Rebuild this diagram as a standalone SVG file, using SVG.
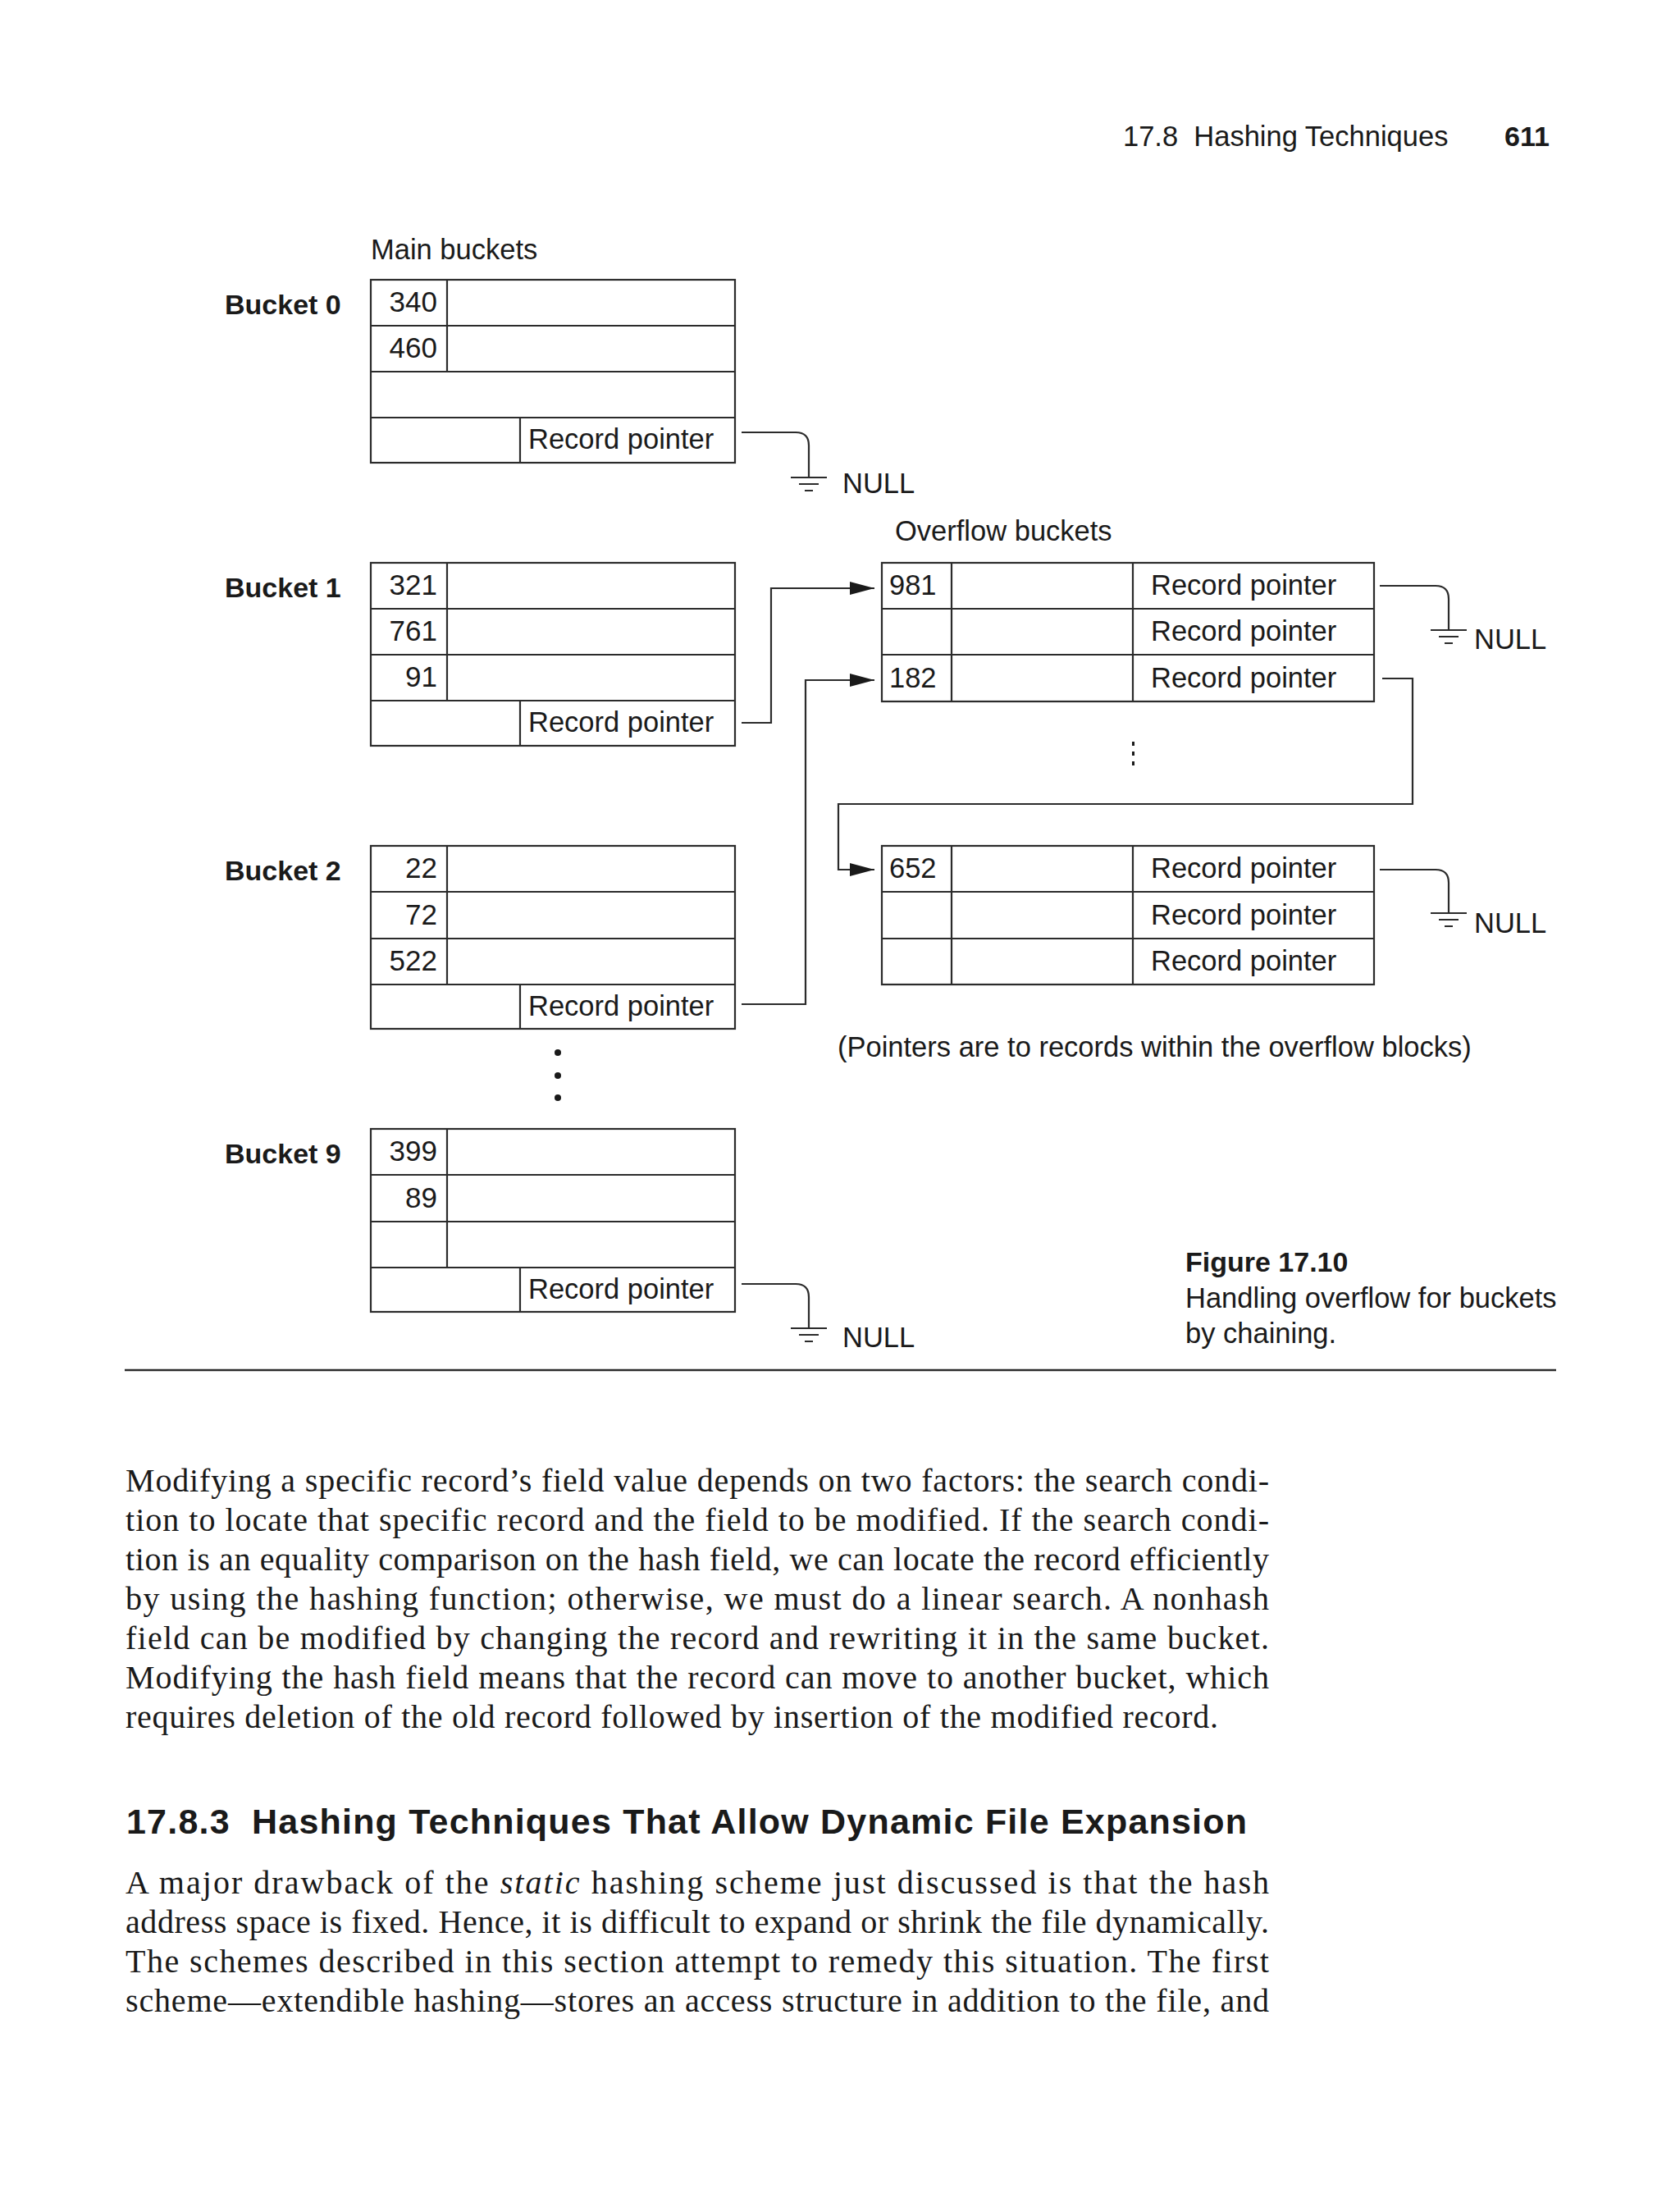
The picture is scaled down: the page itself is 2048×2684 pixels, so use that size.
<svg xmlns="http://www.w3.org/2000/svg" width="2048" height="2684" viewBox="0 0 2048 2684">
<style>
.bg{fill:#ffffff}
.box{fill:none;stroke:#2b2b2b;stroke-width:2.2}
.ln{fill:none;stroke:#2b2b2b;stroke-width:2.2}
.t{font-family:"Liberation Sans",Arial,Helvetica,sans-serif;font-size:34.5px;fill:#1a1a1a}
.tb{font-family:"Liberation Sans",Arial,Helvetica,sans-serif;font-size:34px;font-weight:bold;fill:#1a1a1a}
.num{text-anchor:end;font-size:35px}
.body{font-family:"Liberation Serif","Times New Roman",serif;font-size:40px;fill:#1a1a1a}
.h{font-family:"Liberation Sans",Arial,Helvetica,sans-serif;font-size:43px;font-weight:bold;fill:#1a1a1a}
.gnd{fill:none;stroke:#2b2b2b;stroke-width:2}
.dot{fill:#1a1a1a}
</style>
<defs>
<marker id="arr" markerWidth="30" markerHeight="16" refX="30" refY="8" orient="auto" markerUnits="userSpaceOnUse">
<path d="M0,0 L30,8 L0,16 z" fill="#1a1a1a"/>
</marker>
<g id="ground">
<line x1="-22" y1="0" x2="22" y2="0"/>
<line x1="-12" y1="8" x2="12" y2="8"/>
<line x1="-5" y1="16" x2="5" y2="16"/>
</g>
</defs>
<rect class="bg" x="0" y="0" width="2048" height="2684"/>

<g id="header">
<text class="t" x="1369" y="178" xml:space="preserve">17.8  Hashing Techniques</text>
<text class="tb" x="1834" y="178">611</text>
</g>

<g id="labels">
<text class="t" x="452" y="316">Main buckets</text>
<text class="t" x="1091" y="659">Overflow buckets</text>
<text class="t" x="1021" y="1288">(Pointers are to records within the overflow blocks)</text>
</g>

<g id="bucket0">
<text class="tb" x="274" y="383">Bucket 0</text>
<rect class="box" x="452" y="341" width="444" height="223"/>
<path class="ln" d="M452,397 H896 M452,453 H896 M452,509 H896 M545,341 V453 M634,509 V564"/>
<text class="t num" x="533" y="380">340</text>
<text class="t num" x="533" y="436">460</text>
<text class="t" x="644" y="547">Record pointer</text>
</g>

<g id="bucket1">
<text class="tb" x="274" y="728">Bucket 1</text>
<rect class="box" x="452" y="686" width="444" height="223"/>
<path class="ln" d="M452,742 H896 M452,798 H896 M452,854 H896 M545,686 V854 M634,854 V909"/>
<text class="t num" x="533" y="725">321</text>
<text class="t num" x="533" y="781">761</text>
<text class="t num" x="533" y="837">91</text>
<text class="t" x="644" y="892">Record pointer</text>
</g>

<g id="bucket2">
<text class="tb" x="274" y="1073">Bucket 2</text>
<rect class="box" x="452" y="1031" width="444" height="223"/>
<path class="ln" d="M452,1087 H896 M452,1144 H896 M452,1200 H896 M545,1031 V1200 M634,1200 V1254"/>
<text class="t num" x="533" y="1070">22</text>
<text class="t num" x="533" y="1127">72</text>
<text class="t num" x="533" y="1183">522</text>
<text class="t" x="644" y="1238">Record pointer</text>
</g>

<g id="ellipsis-main">
<circle class="dot" cx="680" cy="1283" r="4"/>
<circle class="dot" cx="680" cy="1311" r="4"/>
<circle class="dot" cx="680" cy="1338" r="4"/>
</g>

<g id="bucket9">
<text class="tb" x="274" y="1418">Bucket 9</text>
<rect class="box" x="452" y="1376" width="444" height="223"/>
<path class="ln" d="M452,1432 H896 M452,1489 H896 M452,1545 H896 M545,1376 V1545 M634,1545 V1599"/>
<text class="t num" x="533" y="1415">399</text>
<text class="t num" x="533" y="1472">89</text>
<text class="t" x="644" y="1583">Record pointer</text>
</g>

<g id="overflow1">
<rect class="box" x="1075" y="686" width="600" height="169"/>
<path class="ln" d="M1075,742 H1675 M1075,798 H1675 M1160,686 V855 M1381,686 V855"/>
<text class="t" x="1084" y="725" font-size="35">981</text>
<text class="t" x="1084" y="838" font-size="35">182</text>
<text class="t" x="1403" y="725">Record pointer</text>
<text class="t" x="1403" y="781">Record pointer</text>
<text class="t" x="1403" y="838">Record pointer</text>
</g>

<g id="ellipsis-overflow">
<rect class="dot" x="1380" y="904" width="3" height="5"/>
<rect class="dot" x="1380" y="916" width="3" height="5"/>
<rect class="dot" x="1380" y="928" width="3" height="5"/>
</g>

<g id="overflow2">
<rect class="box" x="1075" y="1031" width="600" height="169"/>
<path class="ln" d="M1075,1087 H1675 M1075,1144 H1675 M1160,1031 V1200 M1381,1031 V1200"/>
<text class="t" x="1084" y="1070" font-size="35">652</text>
<text class="t" x="1403" y="1070">Record pointer</text>
<text class="t" x="1403" y="1127">Record pointer</text>
<text class="t" x="1403" y="1183">Record pointer</text>
</g>

<g id="null0">
<use href="#ground" class="gnd" x="986" y="582"/>
<text class="t" x="1027" y="601">NULL</text>
</g>
<g id="null-o1">
<use href="#ground" class="gnd" x="1766" y="768"/>
<text class="t" x="1797" y="791">NULL</text>
</g>
<g id="null-o2">
<use href="#ground" class="gnd" x="1766" y="1113"/>
<text class="t" x="1797" y="1137">NULL</text>
</g>
<g id="null9">
<use href="#ground" class="gnd" x="986" y="1619"/>
<text class="t" x="1027" y="1642">NULL</text>
</g>

<g id="connectors">
<path class="ln" d="M904,527 H970 Q986,527 986,543 V582"/>
<path class="ln" d="M904,881 H940 V717 H1066" marker-end="url(#arr)"/>
<path class="ln" d="M904,1224 H982 V829 H1066" marker-end="url(#arr)"/>
<path class="ln" d="M1685,827 H1722 V980 H1022 V1060 H1066" marker-end="url(#arr)"/>
<path class="ln" d="M1682,714 H1750 Q1766,714 1766,730 V768"/>
<path class="ln" d="M1682,1060 H1750 Q1766,1060 1766,1076 V1113"/>
<path class="ln" d="M904,1565 H970 Q986,1565 986,1581 V1619"/>
</g>

<g id="caption">
<text class="tb" x="1445" y="1550">Figure 17.10</text>
<text class="t" x="1445" y="1594">Handling overflow for buckets</text>
<text class="t" x="1445" y="1637">by chaining.</text>
<line x1="152" y1="1670" x2="1897" y2="1670" stroke="#2b2b2b" stroke-width="2.5"/>
</g>

<g id="body1">
<text class="body" x="153" y="1818" textLength="1394" lengthAdjust="spacing">Modifying a specific record’s field value depends on two factors: the search condi-</text>
<text class="body" x="153" y="1866" textLength="1394" lengthAdjust="spacing">tion to locate that specific record and the field to be modified. If the search condi-</text>
<text class="body" x="153" y="1914" textLength="1394" lengthAdjust="spacing">tion is an equality comparison on the hash field, we can locate the record efficiently</text>
<text class="body" x="153" y="1962" textLength="1394" lengthAdjust="spacing">by using the hashing function; otherwise, we must do a linear search. A nonhash</text>
<text class="body" x="153" y="2010" textLength="1394" lengthAdjust="spacing">field can be modified by changing the record and rewriting it in the same bucket.</text>
<text class="body" x="153" y="2058" textLength="1394" lengthAdjust="spacing">Modifying the hash field means that the record can move to another bucket, which</text>
<text class="body" x="153" y="2106" textLength="1332" lengthAdjust="spacing">requires deletion of the old record followed by insertion of the modified record.</text>
</g>

<g id="heading">
<text class="h" x="154" y="2235" textLength="1366" lengthAdjust="spacing" xml:space="preserve">17.8.3  Hashing Techniques That Allow Dynamic File Expansion</text>
</g>

<g id="body2">
<text class="body" x="153" y="2308" textLength="1394" lengthAdjust="spacing">A major drawback of the <tspan font-style="italic">static</tspan> hashing scheme just discussed is that the hash</text>
<text class="body" x="153" y="2356" textLength="1394" lengthAdjust="spacing">address space is fixed. Hence, it is difficult to expand or shrink the file dynamically.</text>
<text class="body" x="153" y="2404" textLength="1394" lengthAdjust="spacing">The schemes described in this section attempt to remedy this situation. The first</text>
<text class="body" x="153" y="2452" textLength="1394" lengthAdjust="spacing">scheme—extendible hashing—stores an access structure in addition to the file, and</text>
</g>
</svg>
